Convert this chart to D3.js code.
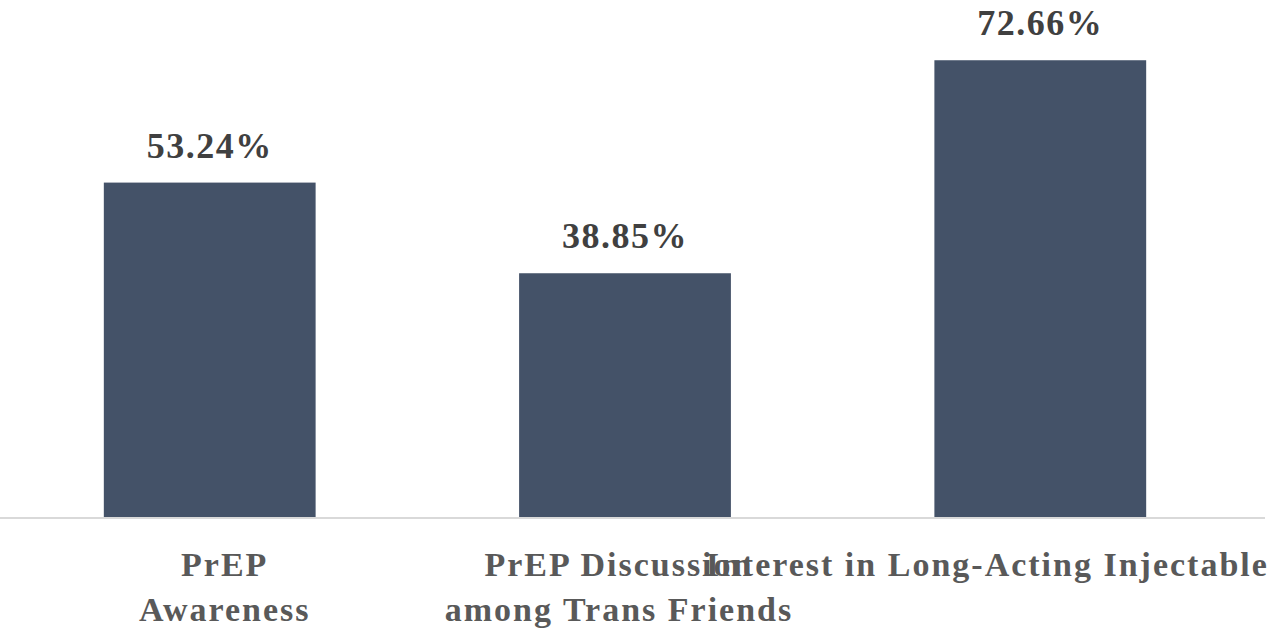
<!DOCTYPE html>
<html>
<head>
<meta charset="utf-8">
<script src="https://cdn.jsdelivr.net/npm/d3@7"></script>
<style>body{margin:0;background:#fff}</style>
</head>
<body>
<svg id="chart" width="1280" height="641"></svg>
<script>
const categories = ['PrEP Awareness', 'PrEP Discussion among Trans Friends', 'Interest in Long-Acting Injectable'];
const labelLines = [['PrEP', 'Awareness'], ['PrEP Discussion', 'among Trans Friends'], ['Interest in Long-Acting Injectable']];
const values = [53.24, 38.85, 72.66];

const svg = d3.select('#chart');
const font = '"Liberation Serif", "Times New Roman", serif';

const x = d3.scaleBand().domain(categories).range([0, 1250]).paddingInner(0.49).paddingOuter(0.25);
const y = d3.scaleLinear().domain([0, 80]).range([518, 14]);

svg.append('g')
  .selectAll('rect')
  .data(values)
  .enter().append('rect')
  .attr('x', (d, i) => x(categories[i]))
  .attr('y', d => y(d))
  .attr('width', x.bandwidth())
  .attr('height', d => y(0) - y(d))
  .attr('fill', '#445268');

svg.append('line')
  .attr('x1', 0).attr('x2', 1265)
  .attr('y1', y(0)).attr('y2', y(0))
  .attr('stroke', '#d9d9d9').attr('stroke-width', 2);

svg.append('g')
  .selectAll('text')
  .data(values)
  .enter().append('text')
  .attr('x', (d, i) => x(categories[i]) + x.bandwidth() / 2)
  .attr('y', d => y(d) - 25)
  .attr('text-anchor', 'middle')
  .attr('font-family', font)
  .attr('font-weight', 'bold')
  .attr('font-size', 36)
  .attr('letter-spacing', 1.5)
  .attr('fill', '#404040')
  .text(d => d.toFixed(2) + '%');

// category labels (Excel-style, third one overlaps the second as in the source)
const shifts = [15, -6, -53];
labelLines.forEach((lines, i) => {
  const t = svg.append('text')
    .attr('text-anchor', 'middle')
    .attr('font-family', font)
    .attr('font-weight', 'bold')
    .attr('font-size', 34)
    .attr('letter-spacing', 2)
    .attr('fill', '#595959');
  lines.forEach((l, j) => {
    t.append('tspan')
      .attr('x', x(categories[i]) + x.bandwidth() / 2 + shifts[i])
      .attr('y', 576 + j * 45)
      .text(l);
  });
});
</script>
</body>
</html>
